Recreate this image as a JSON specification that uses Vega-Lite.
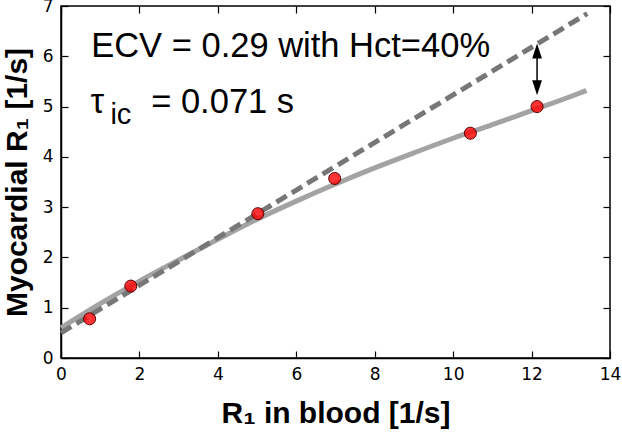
{
  "$schema": "https://vega.github.io/schema/vega-lite/v6.json",
  "width": 549,
  "height": 352,
  "autosize": "none",
  "padding": {"left": 61, "top": 6, "right": 12, "bottom": 78},
  "config": {
    "view": {"stroke": "black", "strokeWidth": 1.5},
    "axis": {
      "grid": false,
      "domainColor": "black",
      "domainWidth": 1.5,
      "tickColor": "black",
      "tickWidth": 1.2,
      "tickSize": -7,
      "labelFlush": false,
      "labelFont": "DejaVu Sans",
      "labelFontSize": 17,
      "labelColor": "black",
      "titleFont": "Liberation Sans",
      "titleFontSize": 30,
      "titleFontWeight": "bold",
      "titleColor": "black"
    }
  },
  "resolve": {"axis": {"x": "independent", "y": "independent"}},
  "layer": [
    {
      "data": {"values": [
        {"x": 0, "y": 0.6}, {"x": 1, "y": 1.08}, {"x": 2, "y": 1.53}, {"x": 3, "y": 1.95},
        {"x": 4, "y": 2.36}, {"x": 5, "y": 2.76}, {"x": 6, "y": 3.12}, {"x": 7, "y": 3.46},
        {"x": 8, "y": 3.78}, {"x": 9, "y": 4.08}, {"x": 10, "y": 4.37}, {"x": 11, "y": 4.64},
        {"x": 12, "y": 4.92}, {"x": 13, "y": 5.2}, {"x": 13.4, "y": 5.32}
      ]},
      "mark": {"type": "line", "color": "#a3a3a3", "strokeWidth": 5, "interpolate": "monotone"},
      "encoding": {
        "x": {"field": "x", "type": "quantitative", "scale": {"domain": [0, 14], "nice": false},
          "axis": {"title": "R₁ in blood [1/s]", "values": [0, 2, 4, 6, 8, 10, 12, 14], "labelPadding": 15, "titlePadding": 16, "labelFontSize": 17, "labelFlush": false}},
        "y": {"field": "y", "type": "quantitative", "scale": {"domain": [0, 7], "nice": false},
          "axis": {"title": "Myocardial R₁ [1/s]", "values": [0, 1, 2, 3, 4, 5, 6, 7], "labelPadding": 15, "titlePadding": 10, "labelFontSize": 17, "labelFlush": false}}
      }
    },
    {
      "data": {"values": [{"x": 0, "y": 0.5}, {"x": 13.42, "y": 6.85}]},
      "mark": {"type": "line", "color": "#777777", "strokeWidth": 5, "strokeDash": [12, 6]},
      "encoding": {
        "x": {"field": "x", "type": "quantitative", "axis": {"orient": "top", "labels": false, "title": null, "domain": false, "values": [0, 2, 4, 6, 8, 10, 12, 14]}},
        "y": {"field": "y", "type": "quantitative", "axis": {"orient": "right", "labels": false, "title": null, "domain": false, "values": [0, 1, 2, 3, 4, 5, 6, 7]}}
      }
    },
    {
      "data": {"values": [{"x": 12.14, "y1": 5.4, "y2": 6.1}]},
      "mark": {"type": "rule", "color": "black", "strokeWidth": 1.5},
      "encoding": {
        "x": {"field": "x", "type": "quantitative", "axis": null},
        "y": {"field": "y1", "type": "quantitative", "axis": null},
        "y2": {"field": "y2"}
      }
    },
    {
      "data": {"values": [{"x": 12.14, "y": 6.106}]},
      "mark": {"type": "point", "shape": "M-0.65,1L0.65,1L0,-1Z", "filled": true, "color": "black", "size": 225, "opacity": 1},
      "encoding": {
        "x": {"field": "x", "type": "quantitative", "axis": null},
        "y": {"field": "y", "type": "quantitative", "axis": null}
      }
    },
    {
      "data": {"values": [{"x": 12.14, "y": 5.375}]},
      "mark": {"type": "point", "shape": "M-0.65,-1L0.65,-1L0,1Z", "filled": true, "color": "black", "size": 225, "opacity": 1},
      "encoding": {
        "x": {"field": "x", "type": "quantitative", "axis": null},
        "y": {"field": "y", "type": "quantitative", "axis": null}
      }
    },
    {
      "data": {"values": [
        {"x": 0.73, "y": 0.78}, {"x": 1.78, "y": 1.43}, {"x": 5.02, "y": 2.87},
        {"x": 6.98, "y": 3.57}, {"x": 10.44, "y": 4.47}, {"x": 12.14, "y": 5.0}
      ]},
      "mark": {"type": "point", "shape": "circle", "filled": true, "fill": "#ff0000", "fillOpacity": 0.8, "stroke": "#5a0000", "strokeWidth": 1, "strokeOpacity": 1, "size": 145},
      "encoding": {
        "x": {"field": "x", "type": "quantitative", "axis": null},
        "y": {"field": "y", "type": "quantitative", "axis": null}
      }
    },
    {
      "data": {"values": [
        {"x": 0.77, "y": 5.99, "txt": "ECV = 0.29 with Hct=40%"},
        {"x": 0.75, "y": 4.88, "txt": "τ"},
        {"x": 2.3, "y": 4.88, "txt": "= 0.071 s"}
      ]},
      "mark": {"type": "text", "font": "Liberation Sans", "fontSize": 34.5, "align": "left", "baseline": "alphabetic", "color": "black"},
      "encoding": {
        "x": {"field": "x", "type": "quantitative", "axis": null},
        "y": {"field": "y", "type": "quantitative", "axis": null},
        "text": {"field": "txt"}
      }
    },
    {
      "data": {"values": [{"x": 1.26, "y": 4.66, "txt": "ic"}]},
      "mark": {"type": "text", "font": "Liberation Sans", "fontSize": 29, "align": "left", "baseline": "alphabetic", "color": "black"},
      "encoding": {
        "x": {"field": "x", "type": "quantitative", "axis": null},
        "y": {"field": "y", "type": "quantitative", "axis": null},
        "text": {"field": "txt"}
      }
    }
  ]
}
